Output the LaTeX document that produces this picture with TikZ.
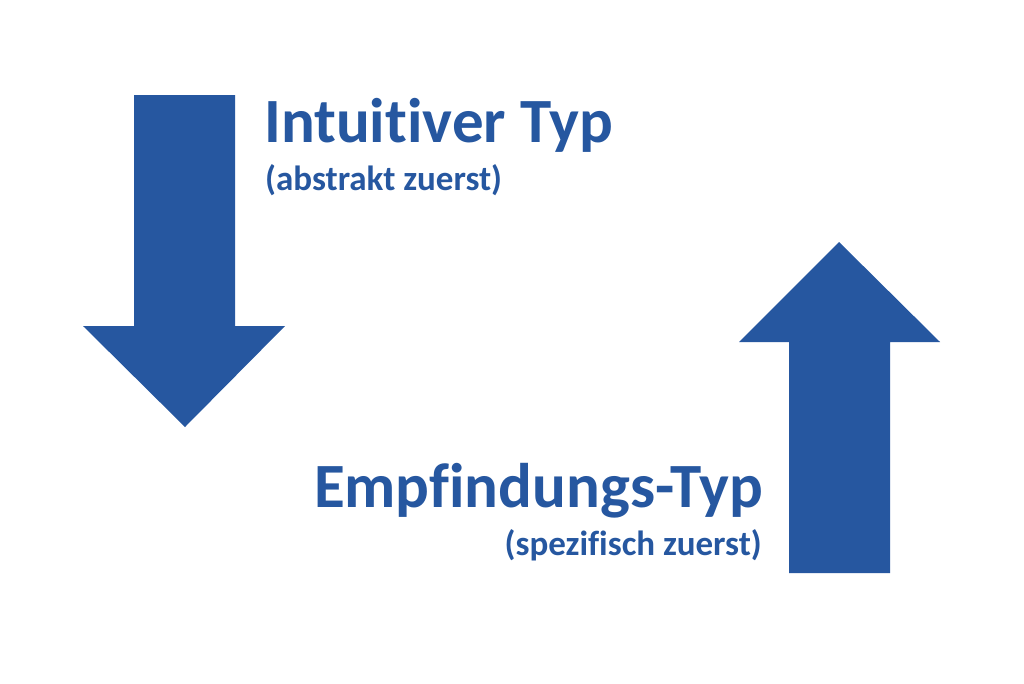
\documentclass[tikz,border=0pt]{standalone}
\usepackage{fontspec}
\setmainfont{Carlito}[Ligatures=NoCommon]
\definecolor{arrowblue}{RGB}{38,87,160}
\tikzset{
  bigarrow/.style={fill=arrowblue, draw=none},
  titletext/.style={inner sep=0pt, text=arrowblue, font=\bfseries\fontsize{63}{72}\selectfont},
  subtext/.style={inner sep=0pt, text=arrowblue, font=\bfseries\fontsize{35}{42}\selectfont}
}
\begin{document}
\begin{tikzpicture}[x=1pt,y=-1pt]
\useasboundingbox[fill=white] (0,0) rectangle (1024,683);
% down arrow
\path[bigarrow] (134,95) -- (235,95) -- (235,326) -- (285,326) -- (185,427) -- (83,326) -- (134,326) -- cycle;
% up arrow
\path[bigarrow] (789,573) -- (890,573) -- (890,342) -- (940,342) -- (839,242) -- (739,342) -- (789,342) -- cycle;
\node[titletext, anchor=base west] (t1) at (264,142) {Intuitiver Typ};
\node[subtext, anchor=base west] (s1) at (265,190) {(abstrakt zuerst)};
\node[titletext, anchor=base east] (t2) at (763,507) {Empfindungs-Typ};
\node[subtext, anchor=base east] (s2) at (762,555) {(spezifisch zuerst)};
\end{tikzpicture}
\end{document}
